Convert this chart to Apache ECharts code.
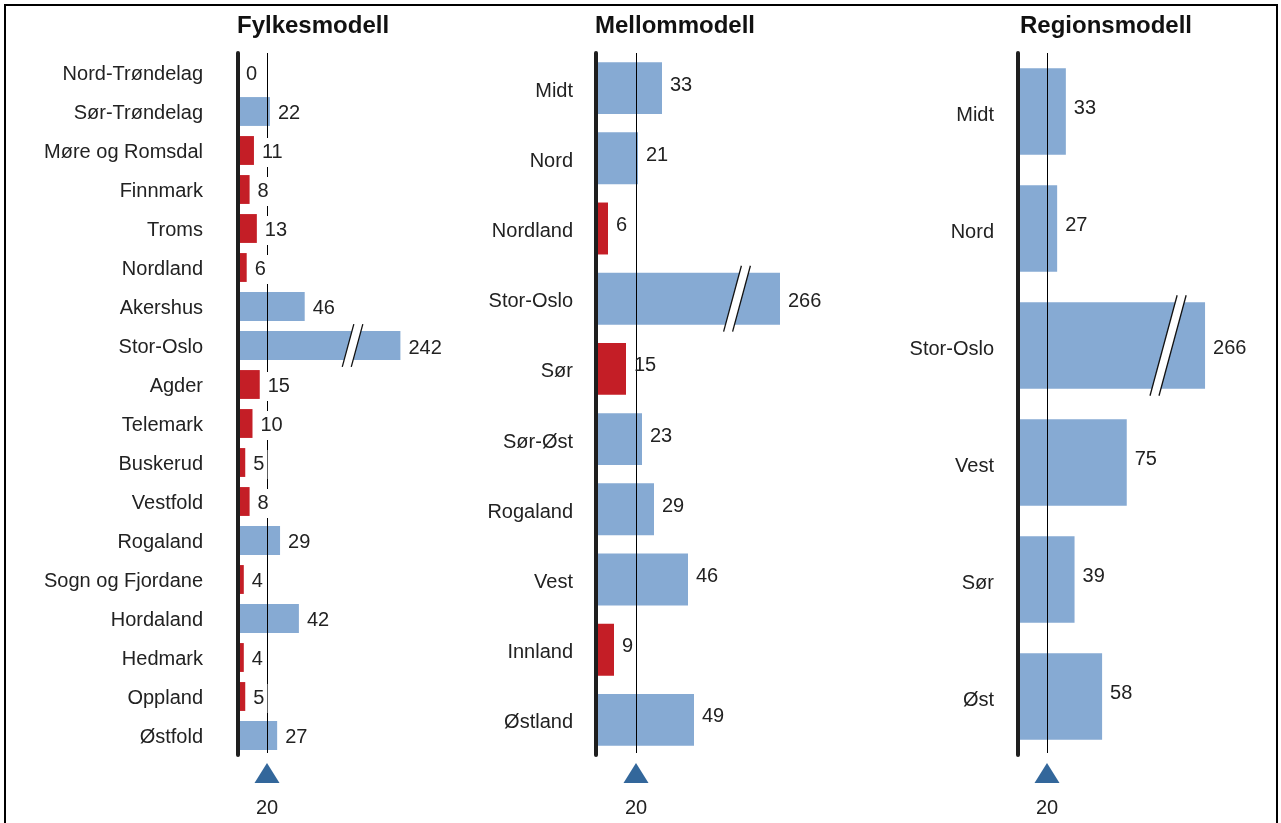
<!DOCTYPE html>
<html>
<head>
<meta charset="utf-8">
<title>Fylkesmodell, Mellommodell, Regionsmodell</title>
<script src="https://cdn.jsdelivr.net/npm/echarts@6/dist/echarts.min.js"></script>
<style>
  html, body { margin: 0; padding: 0; background: #fff; }
  #chart { width: 1281px; height: 823px; }
</style>
</head>
<body>
<div id="chart"></div>
<script>
// Counties
const fylker = ['Nord-Trøndelag', 'Sør-Trøndelag', 'Møre og Romsdal', 'Finnmark', 'Troms', 'Nordland',
  'Akershus', 'Stor-Oslo', 'Agder', 'Telemark', 'Buskerud', 'Vestfold', 'Rogaland',
  'Sogn og Fjordane', 'Hordaland', 'Hedmark', 'Oppland', 'Østfold'];
const fylkeVerdier = [0, 22, 11, 8, 13, 6, 46, 242, 15, 10, 5, 8, 29, 4, 42, 4, 5, 27];

// Intermediate model
const mellomRegioner = ['Midt', 'Nord', 'Nordland', 'Stor-Oslo', 'Sør', 'Sør-Øst', 'Rogaland', 'Vest', 'Innland', 'Østland'];
const mellomVerdier = [33, 21, 6, 266, 15, 23, 29, 46, 9, 49];

// Regional model
const regioner = ['Midt', 'Nord', 'Stor-Oslo', 'Vest', 'Sør', 'Øst'];
const regionVerdier = [33, 27, 266, 75, 39, 58];

// Threshold marked below each panel
const terskel = 20;

const FONT = '"Liberation Sans", Arial, Helvetica, sans-serif';
const BLUE = '#86aad3';
const RED = '#c41e26';
const MARK = '#33679b';
const INK = '#1e1e1e';

const panels = [
  { title: 'Fylkesmodell', titleLeft: 237, cats: fylker, vals: fylkeVerdier, left: 238, width: 217.5, max: 280,
    brk: { start: 78, end: 210, gap: 2 }, labelMargin: 35, labelBg: true, catDy: 2, valDy: 2 },
  { title: 'Mellommodell', titleLeft: 595, cats: mellomRegioner, vals: mellomVerdier, left: 596, width: 200, max: 274,
    brk: { start: 69.5, end: 245.5, gap: 2 }, labelMargin: 23, labelBg: false, catDy: 3, valDy: -3 },
  { title: 'Regionsmodell', titleLeft: 1020, cats: regioner, vals: regionVerdier, left: 1018, width: 217.5, max: 287,
    brk: { start: 102, end: 242, gap: 3 }, labelMargin: 24, labelBg: false, catDy: 4, valDy: -3 }
];

const GRID_TOP = 53;
const GRID_H = 702;
const CAT_GAP = 0.26;

const option = {
  backgroundColor: '#fff',
  animation: false,
  textStyle: { fontFamily: FONT },
  title: [],
  grid: [],
  xAxis: [],
  yAxis: [],
  series: [],
  graphic: [{
    type: 'rect',
    shape: { x: 5, y: 5, width: 1272, height: 840 },
    style: { fill: 'none', stroke: '#000', lineWidth: 2 },
    silent: true
  }]
};

panels.forEach((p, gi) => {
  option.title.push({
    text: p.title,
    left: p.titleLeft,
    top: 14,
    padding: 0,
    textStyle: { fontFamily: FONT, fontSize: 24, fontWeight: 'bold', color: '#111' }
  });
  option.grid.push({ left: p.left, top: GRID_TOP, width: p.width, height: GRID_H, outerBoundsMode: 'none', containLabel: false });
  option.xAxis.push({
    gridIndex: gi, type: 'value', min: 0, max: p.max, show: false,
    breaks: [{ start: p.brk.start, end: p.brk.end, gap: p.brk.gap }],
    breakArea: { show: false, itemStyle: { opacity: 0, borderWidth: 0 } },
    splitLine: { show: false }
  });
  option.yAxis.push({
    gridIndex: gi, type: 'category', data: p.cats, inverse: true, z: 6,
    axisLine: { show: true, onZero: false, lineStyle: { color: INK, width: 4 } },
    axisTick: { show: false },
    splitLine: { show: false },
    axisLabel: {
      margin: p.labelMargin,
      formatter: '{c|{value}}',
      rich: { c: { fontFamily: FONT, fontSize: 20, color: '#222', lineHeight: 22, padding: [p.catDy * 2, 0, 0, 0] } }
    }
  });

  // Bars: red below the threshold, blue at or above it
  option.series.push({
    type: 'bar', xAxisIndex: gi, yAxisIndex: gi,
    barCategoryGap: (CAT_GAP * 100) + '%',
    data: p.vals.map(v => ({ value: v, itemStyle: { color: v < terskel ? RED : BLUE } })),
    label: { show: false },
    z: 2
  });

  // Threshold line through the panel, with the marker and label underneath
  option.series.push({
    type: 'custom', xAxisIndex: gi, yAxisIndex: gi, silent: true, z: 3, clip: false,
    data: [[terskel, 0]],
    renderItem(params, api) {
      const x = api.coord([api.value(0), api.value(1)])[0];
      const xl = Math.round(x) + 0.5;
      const t = params.coordSys.y;
      const b = t + params.coordSys.height;
      return {
        type: 'group',
        children: [
          { type: 'line', shape: { x1: xl, y1: t, x2: xl, y2: b - 2 }, style: { stroke: '#000', lineWidth: 1 } },
          { type: 'polygon', shape: { points: [[x, b + 8], [x - 12.5, b + 28], [x + 12.5, b + 28]] },
            style: { fill: MARK } },
          { type: 'text', style: { text: String(api.value(0)), x: x, y: b + 53, align: 'center', verticalAlign: 'middle',
            fontFamily: FONT, fontSize: 20, fill: '#222' } }
        ]
      };
    }
  });

  // Value labels, laid over the bars so they sit above the threshold line
  option.series.push({
    type: 'bar', xAxisIndex: gi, yAxisIndex: gi, silent: true, z: 4,
    barCategoryGap: (CAT_GAP * 100) + '%', barGap: '-100%',
    itemStyle: { color: 'rgba(0,0,0,0)' },
    data: p.vals.map(v => ({ value: v, label: { offset: [0, v > p.brk.end ? 3 : p.valDy] } })),
    label: Object.assign({
      show: true, position: 'right',
      fontFamily: FONT, fontSize: 20, color: '#222'
    }, p.labelBg
      ? { distance: 5, backgroundColor: '#fff', padding: [5, 3, 4, 3] }
      : { distance: 8 })
  });

  // Axis break marks on bars that run past the break
  option.series.push({
    type: 'custom', xAxisIndex: gi, yAxisIndex: gi, silent: true, z: 5, clip: false,
    data: p.vals.map((v, i) => [p.brk.start, i, v, p.brk.end]).filter(d => d[2] > p.brk.end),
    renderItem(params, api) {
      const a = api.coord([api.value(0), api.value(1)]);
      const b = api.coord([api.value(3), api.value(1)]);
      const cx = (a[0] + b[0]) / 2;
      const cy = a[1];
      const band = api.size([0, 1])[1];
      const h = band * (1 - CAT_GAP) + 14;
      const shift = h * 0.27;
      const g = 9;
      const top = cy - h / 2, bot = cy + h / 2;
      const l1 = [cx - g / 2 - shift / 2, bot, cx - g / 2 + shift / 2, top];
      const l2 = [cx + g / 2 - shift / 2, bot, cx + g / 2 + shift / 2, top];
      return {
        type: 'group',
        children: [
          { type: 'polygon', shape: { points: [[l1[0], l1[1]], [l1[2], l1[3]], [l2[2], l2[3]], [l2[0], l2[1]]] },
            style: { fill: '#fff' } },
          { type: 'line', shape: { x1: l1[0], y1: l1[1], x2: l1[2], y2: l1[3] }, style: { stroke: '#111', lineWidth: 1.3 } },
          { type: 'line', shape: { x1: l2[0], y1: l2[1], x2: l2[2], y2: l2[3] }, style: { stroke: '#111', lineWidth: 1.3 } }
        ]
      };
    }
  });
});

const chart = echarts.init(document.getElementById('chart'), null, { renderer: 'canvas' });
chart.setOption(option);
</script>
</body>
</html>
